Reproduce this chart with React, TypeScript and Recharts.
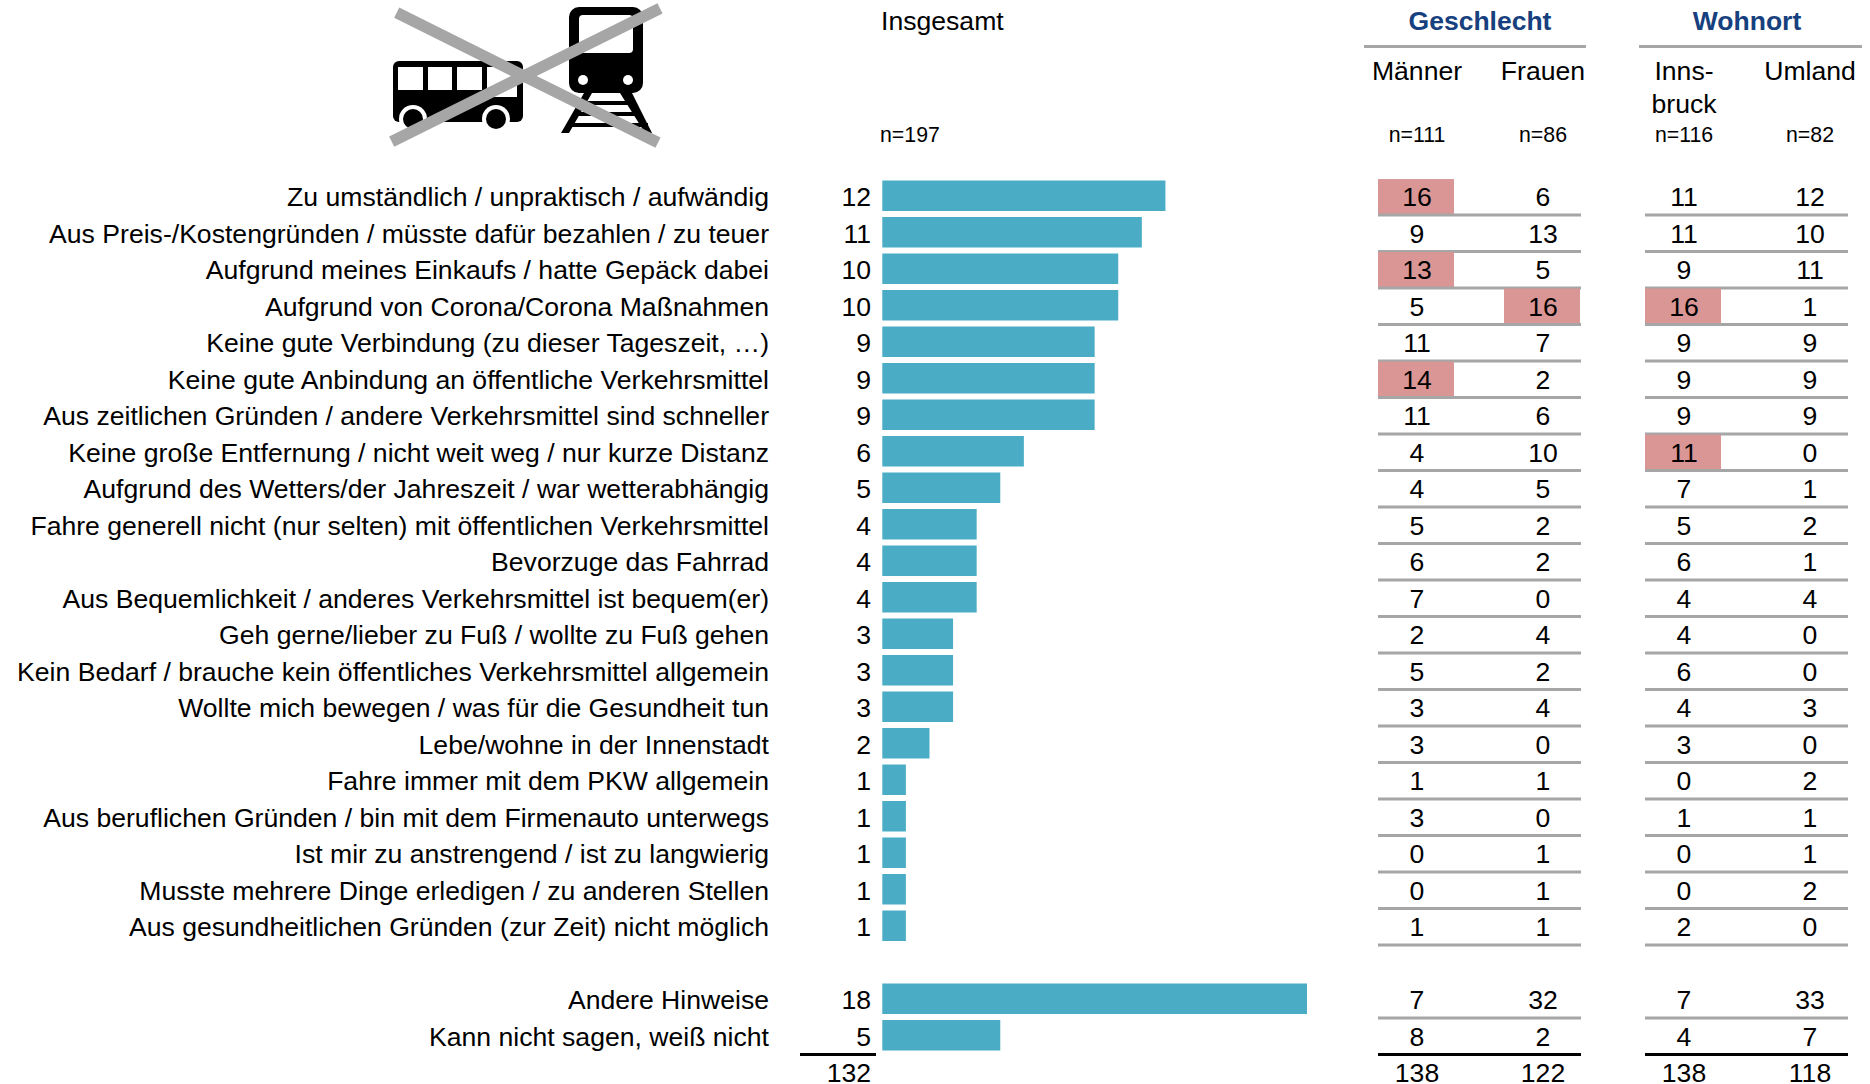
import { BarChart, Bar, XAxis, YAxis, Customized } from "recharts"

const categories = [
  "Zu umständlich / unpraktisch / aufwändig",
  "Aus Preis-/Kostengründen / müsste dafür bezahlen / zu teuer",
  "Aufgrund meines Einkaufs / hatte Gepäck dabei",
  "Aufgrund von Corona/Corona Maßnahmen",
  "Keine gute Verbindung (zu dieser Tageszeit, …)",
  "Keine gute Anbindung an öffentliche Verkehrsmittel",
  "Aus zeitlichen Gründen / andere Verkehrsmittel sind schneller",
  "Keine große Entfernung / nicht weit weg / nur kurze Distanz",
  "Aufgrund des Wetters/der Jahreszeit / war wetterabhängig",
  "Fahre generell nicht (nur selten) mit öffentlichen Verkehrsmittel",
  "Bevorzuge das Fahrrad",
  "Aus Bequemlichkeit / anderes Verkehrsmittel ist bequem(er)",
  "Geh gerne/lieber zu Fuß / wollte zu Fuß gehen",
  "Kein Bedarf / brauche kein öffentliches Verkehrsmittel allgemein",
  "Wollte mich bewegen / was für die Gesundheit tun",
  "Lebe/wohne in der Innenstadt",
  "Fahre immer mit dem PKW allgemein",
  "Aus beruflichen Gründen / bin mit dem Firmenauto unterwegs",
  "Ist mir zu anstrengend / ist zu langwierig",
  "Musste mehrere Dinge erledigen / zu anderen Stellen",
  "Aus gesundheitlichen Gründen (zur Zeit) nicht möglich",
  "",
  "Andere Hinweise",
  "Kann nicht sagen, weiß nicht",
]

const insgesamt = [12, 11, 10, 10, 9, 9, 9, 6, 5, 4, 4, 4, 3, 3, 3, 2, 1, 1, 1, 1, 1, null, 18, 5]
const maenner = [16, 9, 13, 5, 11, 14, 11, 4, 4, 5, 6, 7, 2, 5, 3, 3, 1, 3, 0, 0, 1, null, 7, 8]
const frauen = [6, 13, 5, 16, 7, 2, 6, 10, 5, 2, 2, 0, 4, 2, 4, 0, 1, 0, 1, 1, 1, null, 32, 2]
const innsbruck = [11, 11, 9, 16, 9, 9, 9, 11, 7, 5, 6, 4, 4, 6, 4, 3, 0, 1, 0, 0, 2, null, 7, 4]
const umland = [12, 10, 11, 1, 9, 9, 9, 0, 1, 2, 1, 4, 0, 0, 3, 0, 2, 1, 1, 2, 0, null, 33, 7]

const totals = { insgesamt: 132, maenner: 138, frauen: 122, innsbruck: 138, umland: 118 }

// Rows with a red cell: column key -> row indexes
const highlighted: Record<string, number[]> = {
  maenner: [0, 2, 5],
  frauen: [3],
  innsbruck: [3, 7],
}

const rows = categories.map((name, i) => ({ id: i, name, value: insgesamt[i] }))

const FONT = "'Liberation Sans', Arial, sans-serif"
const GREY = "#a6a6a6"
const RED = "#d99694"
const TEAL = "#4bacc6"
const NAVY = "#17407e"
const LABEL_SIZE = 26.6

const columns = [
  { key: "maenner", x: 1417, values: maenner, total: totals.maenner },
  { key: "frauen", x: 1543, values: frauen, total: totals.frauen },
  { key: "innsbruck", x: 1684, values: innsbruck, total: totals.innsbruck },
  { key: "umland", x: 1810, values: umland, total: totals.umland },
]

function RowTick({ y, payload }: any) {
  const i = payload.value as number
  const name = categories[i]
  const last = i === categories.length - 1
  const empty = insgesamt[i] === null
  const base = y + 10.5
  const txt = { fontFamily: FONT, fontSize: LABEL_SIZE, fill: "#000" }
  return (
    <g>
      {columns.map((c) =>
        (highlighted[c.key] || []).includes(i) ? (
          <rect key={c.key} x={c.x - 39} y={y - 16.7} width={76} height={35.5} fill={RED} />
        ) : null
      )}
      {!empty && (
        <>
          <text x={769} y={base} textAnchor="end" {...txt}>{name}</text>
          <text x={871} y={base} textAnchor="end" {...txt}>{insgesamt[i]}</text>
          {columns.map((c) => (
            <text key={c.key} x={c.x} y={base} textAnchor="middle" {...txt}>{c.values[i]}</text>
          ))}
        </>
      )}
      {!empty && (
        <g stroke={last ? "#000" : GREY} strokeWidth={3}>
          <line x1={1378} x2={1581} y1={y + 19.2} y2={y + 19.2} />
          <line x1={1645} x2={1848} y1={y + 19.2} y2={y + 19.2} />
          {last && <line x1={800} x2={876} y1={y + 19.2} y2={y + 19.2} />}
        </g>
      )}
      {last && (
        <>
          <text x={871} y={y + 47.2} textAnchor="end" {...txt}>{totals.insgesamt}</text>
          {columns.map((c) => (
            <text key={c.key} x={c.x} y={y + 47.2} textAnchor="middle" {...txt}>{c.total}</text>
          ))}
        </>
      )}
    </g>
  )
}

function Header() {
  const head = { fontFamily: FONT, fontSize: LABEL_SIZE, fill: "#000", textAnchor: "middle" as const }
  const small = { fontFamily: FONT, fontSize: 21.3, fill: "#000", textAnchor: "middle" as const }
  const title = { fontFamily: FONT, fontSize: 26.5, fontWeight: 700, fill: NAVY, textAnchor: "middle" as const }
  return (
    <g>
      <text x={881} y={30} fontFamily={FONT} fontSize={LABEL_SIZE} fill="#000">Insgesamt</text>
      <text x={1480} y={30} {...title}>Geschlecht</text>
      <text x={1747} y={30} {...title}>Wohnort</text>
      <line x1={1364} x2={1586} y1={46.5} y2={46.5} stroke={GREY} strokeWidth={3} />
      <line x1={1639} x2={1862} y1={46.5} y2={46.5} stroke={GREY} strokeWidth={3} />
      <text x={1417} y={80} {...head}>Männer</text>
      <text x={1543} y={80} {...head}>Frauen</text>
      <text x={1684} y={80} {...head}>Inns-</text>
      <text x={1684} y={113} {...head}>bruck</text>
      <text x={1810} y={80} {...head}>Umland</text>
      <text x={880} y={142} fontFamily={FONT} fontSize={21.3} fill="#000">n=197</text>
      <text x={1417} y={142} {...small}>n=111</text>
      <text x={1543} y={142} {...small}>n=86</text>
      <text x={1684} y={142} {...small}>n=116</text>
      <text x={1810} y={142} {...small}>n=82</text>

      {/* bus */}
      <rect x={393} y={61} width={130} height={61} rx={6} fill="#000" />
      <g fill="#fff">
        <rect x={398} y={67} width={25} height={23} />
        <rect x={428} y={67} width={24} height={23} />
        <rect x={457} y={67} width={25} height={23} />
        <rect x={487} y={67} width={30} height={30} />
      </g>
      <circle cx={413} cy={119} r={14} fill="#fff" />
      <circle cx={413} cy={119} r={10} fill="#000" />
      <circle cx={496} cy={119} r={14} fill="#fff" />
      <circle cx={496} cy={119} r={10} fill="#000" />
      {/* train */}
      <rect x={569} y={7} width={74} height={86} rx={10} fill="#000" />
      <rect x={579} y={15} width={54} height={38} rx={4} fill="#fff" />
      <circle cx={583} cy={80} r={5} fill="#fff" />
      <circle cx={628} cy={80} r={5} fill="#fff" />
      <path d="M584 93 L561 133 L569 133 L592 93 Z M620 93 L645 133 L652 133 L632 93 Z" fill="#000" />
      <g stroke="#000" strokeWidth={4}>
        <line x1={582} x2={632} y1={103} y2={103} />
        <line x1={575} x2={640} y1={114} y2={114} />
        <line x1={568} x2={648} y1={125} y2={125} />
      </g>
      {/* crossed out */}
      <g stroke={GREY} strokeWidth={11.5}>
        <line x1={396.7} y1={12.7} x2={658} y2={142.7} />
        <line x1={391.7} y1={141.7} x2={660} y2={8.3} />
      </g>
    </g>
  )
}

export default function App() {
  return (
    <div style={{ position: "absolute", left: 0, top: 0, width: 1870, height: 1084, background: "#fff" }}>
      <BarChart
        width={1870}
        height={1084}
        data={rows}
        layout="vertical"
        margin={{ top: 177.5, right: 563, bottom: 30.5, left: 0 }}
      >
        <XAxis type="number" hide domain={[0, 18]} />
        <YAxis
          type="category"
          dataKey="id"
          width={882.3}
          interval={0}
          axisLine={false}
          tickLine={false}
          tick={(p: any) => <RowTick {...p} />}
        />
        <Bar dataKey="value" fill={TEAL} barSize={30.5} isAnimationActive={false} />
        <Customized component={Header} />
      </BarChart>
    </div>
  )
}
